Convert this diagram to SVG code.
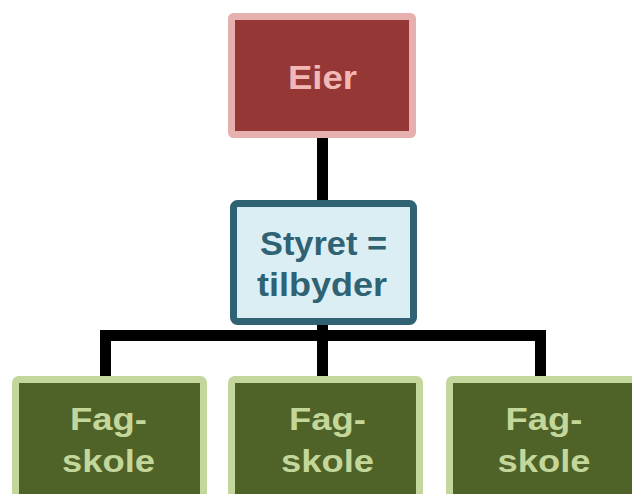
<svg xmlns="http://www.w3.org/2000/svg" width="632" height="494" viewBox="0 0 632 494">
  <style>
    .t { font-family: "Liberation Sans", Arial, sans-serif; font-weight: bold; text-anchor: middle; }
    .eier-box { fill: #953735; stroke: #e6b0ae; stroke-width: 7; }
    .eier-t { fill: #f2b8b6; font-size: 33px; }
    .sty-box { fill: #dbeef4; stroke: #2f6374; stroke-width: 7; }
    .sty-t { fill: #2f6374; font-size: 34px; }
    .fag-box { fill: #4f6228; stroke: #c3d69b; stroke-width: 7; }
    .fag-t { fill: #c4d79b; font-size: 31px; }
    .conn { stroke: #000; stroke-width: 11; fill: none; }
  </style>
  <rect width="632" height="494" fill="#ffffff"/>
  <g id="connectors">
    <line class="conn" x1="322.5" y1="136" x2="322.5" y2="202"/>
    <line class="conn" x1="322.5" y1="322" x2="322.5" y2="336"/>
    <polyline class="conn" points="105.5,379 105.5,335.5 540.5,335.5 540.5,379"/>
    <line class="conn" x1="322.5" y1="335" x2="322.5" y2="379"/>
  </g>
  <g id="eier">
    <rect class="eier-box" x="231.5" y="16.5" width="181" height="118" rx="2"/>
    <text class="t eier-t" x="322.5" y="89" textLength="69" lengthAdjust="spacingAndGlyphs">Eier</text>
  </g>
  <g id="styret">
    <rect class="sty-box" x="233.5" y="203.5" width="180" height="118" rx="4"/>
    <text class="t sty-t" x="323.5" y="255" textLength="127" lengthAdjust="spacingAndGlyphs">Styret =</text>
    <text class="t sty-t" x="322" y="296" textLength="130" lengthAdjust="spacingAndGlyphs">tilbyder</text>
  </g>
  <g id="fagskole1">
    <rect class="fag-box" x="15.5" y="379.5" width="188" height="120" rx="3"/>
    <text class="t fag-t" x="108.5" y="430" textLength="77" lengthAdjust="spacingAndGlyphs">Fag-</text>
    <text class="t fag-t" x="108.5" y="472" textLength="93" lengthAdjust="spacingAndGlyphs">skole</text>
  </g>
  <g id="fagskole2">
    <rect class="fag-box" x="231.5" y="379.5" width="188" height="120" rx="3"/>
    <text class="t fag-t" x="327.5" y="430" textLength="77" lengthAdjust="spacingAndGlyphs">Fag-</text>
    <text class="t fag-t" x="327.5" y="472" textLength="93" lengthAdjust="spacingAndGlyphs">skole</text>
  </g>
  <g id="fagskole3">
    <rect class="fag-box" x="449.5" y="379.5" width="186" height="120" rx="3"/>
    <text class="t fag-t" x="544" y="430" textLength="77" lengthAdjust="spacingAndGlyphs">Fag-</text>
    <text class="t fag-t" x="544" y="472" textLength="93" lengthAdjust="spacingAndGlyphs">skole</text>
  </g>
</svg>
